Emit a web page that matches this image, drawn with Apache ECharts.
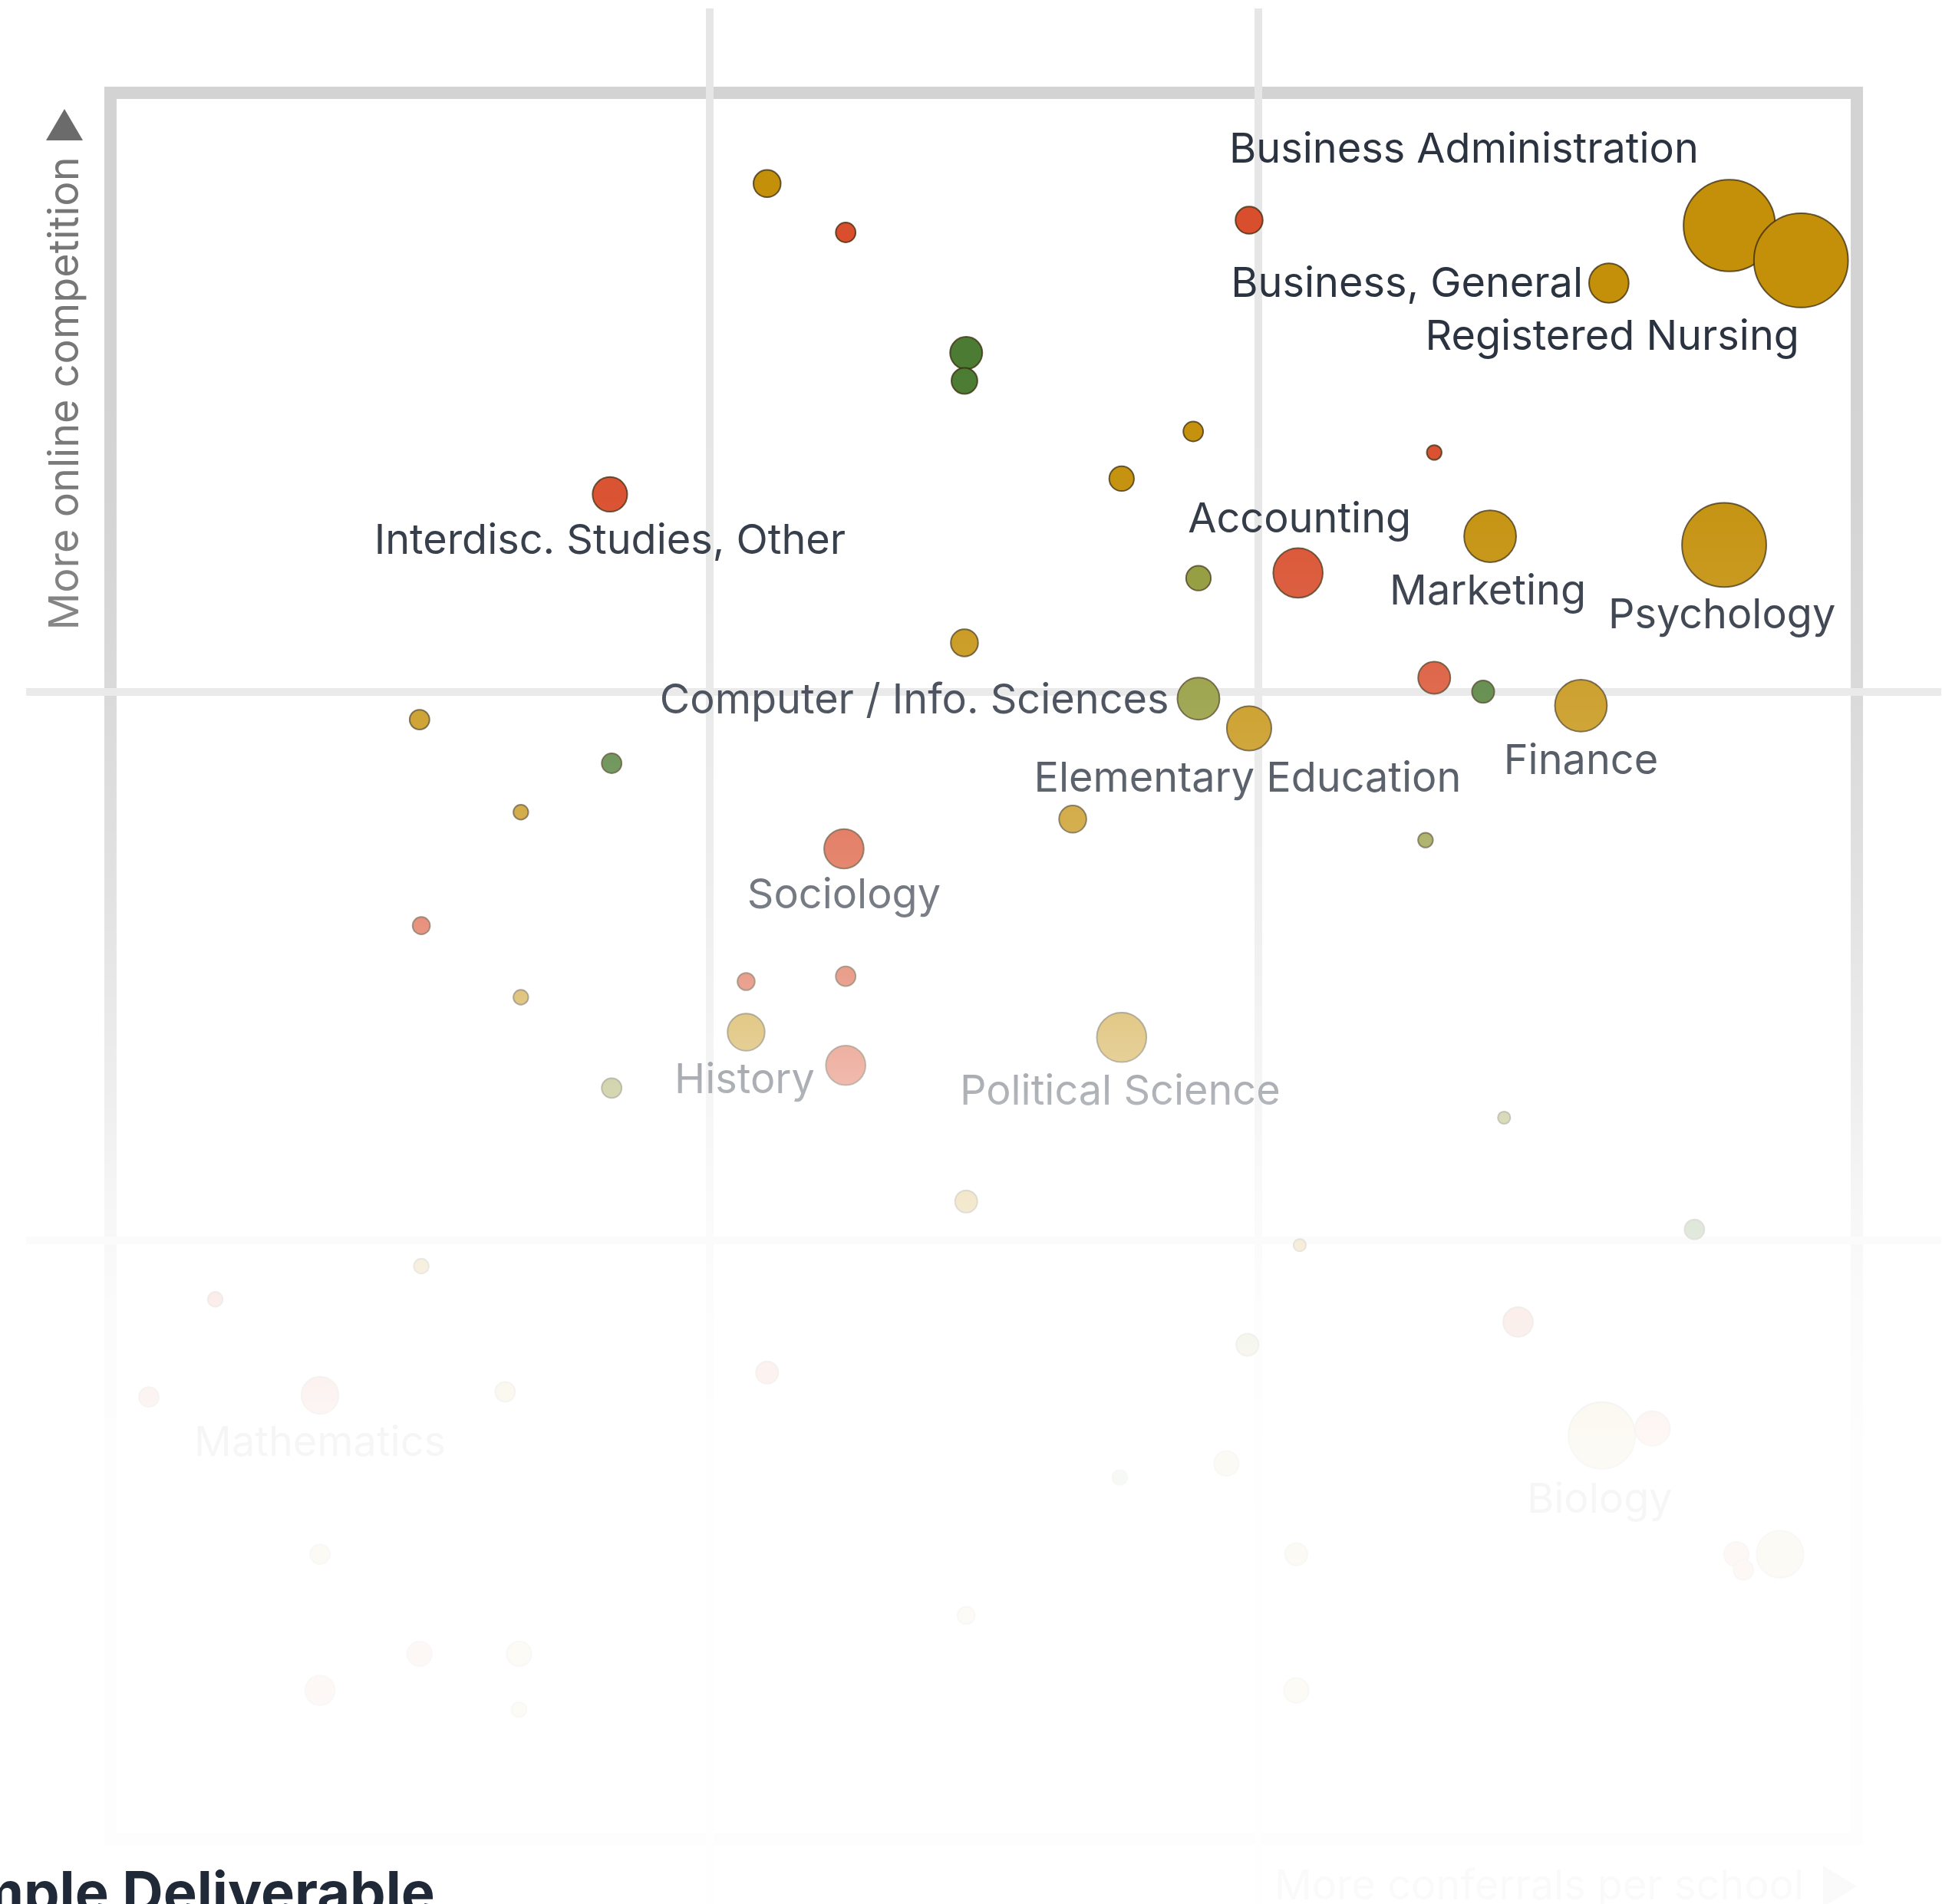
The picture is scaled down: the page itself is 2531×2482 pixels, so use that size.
<!DOCTYPE html>
<html>
<head>
<meta charset="utf-8">
<style>
html,body{margin:0;padding:0;background:#ffffff;overflow:hidden}
#chart{width:2531px;height:2482px}
</style>
<script src="https://cdn.jsdelivr.net/npm/echarts@6/dist/echarts.min.js"></script>
</head>
<body>
<div id="chart"></div>
<script>
// ---- data (x: conferrals-per-school index, y: online-competition index, size: volume) ----
const names = [
  "", "", "", "Business Administration", "Registered Nursing", "Business, General",
  "", "", "", "", "", "Interdisc. Studies, Other",
  "Accounting", "Marketing", "Psychology", "", "", "",
  "", "Computer / Info. Sciences", "Elementary Education", "Finance", "", "",
  "", "", "", "Sociology", "", "",
  "", "", "History", "", "Political Science", "",
  "", "", "", "", "", "",
  "", "", "Mathematics", "", "", "Biology",
  "", "", "", "", "", "",
  "", "", "", "", "", "",
  "", "", ""
];
const xVals = [
  37.6, 42.1, 65.2, 92.7, 96.8, 85.8,
  49.0, 48.9, 62.0, 75.8, 57.9, 28.6,
  68.0, 79.0, 92.4, 62.3, 48.9, 75.8,
  78.6, 62.3, 65.2, 84.2, 17.7, 28.7,
  23.5, 55.1, 75.3, 42.0, 17.8, 23.5,
  36.4, 42.1, 36.4, 42.1, 57.9, 28.7,
  79.8, 49.0, 90.7, 68.1, 17.8, 6.0,
  80.6, 65.1, 12.0, 22.6, 37.6, 85.4,
  88.3, 63.9, 57.8, 67.9, 93.1, 95.6,
  93.5, 67.9, 12.0, 17.7, 23.4, 12.0,
  23.4, 2.2, 49.0
];
const yVals = [
  94.8, 92.0, 92.7, 92.4, 90.4, 89.1,
  85.1, 83.5, 80.6, 79.4, 77.9, 77.0,
  72.5, 74.6, 74.1, 72.2, 68.5, 66.5,
  65.7, 65.3, 63.6, 64.9, 64.1, 61.6,
  58.8, 58.4, 57.2, 56.7, 52.3, 48.2,
  49.1, 49.4, 46.2, 44.3, 45.9, 43.0,
  41.3, 36.5, 34.9, 34.0, 32.8, 30.9,
  29.6, 28.3, 25.4, 25.6, 26.7, 23.1,
  23.5, 21.5, 20.7, 16.3, 16.3, 16.3,
  15.4, 8.5, 16.3, 10.6, 10.6, 8.5,
  7.4, 25.3, 12.8
];
const sizes = [
  121, 64, 121, 1369, 1444, 256,
  169, 110, 64, 36, 100, 196,
  400, 441, 1156, 100, 121, 169,
  81, 289, 324, 441, 64, 64,
  36, 121, 36, 256, 49, 36,
  49, 64, 225, 256, 400, 64,
  25, 81, 64, 25, 36, 36,
  144, 81, 225, 64, 81, 729,
  196, 100, 36, 81, 100, 361,
  64, 100, 64, 100, 100, 144,
  36, 64, 49
];
const groups = [
  "gold", "red", "red", "gold", "gold", "gold",
  "green", "green", "gold", "red", "gold", "red",
  "red", "gold", "gold", "olive", "gold", "red",
  "green", "olive", "gold", "gold", "gold", "green",
  "gold", "gold", "olive", "red", "red", "gold",
  "red", "red", "gold", "red", "gold", "olive",
  "olive", "gold", "green", "gold", "gold", "red",
  "red", "olive", "red", "gold", "red", "gold",
  "red", "gold", "green", "gold", "red", "gold",
  "red", "gold", "gold", "red", "gold", "red",
  "gold", "red", "gold"
];
const quadrantX = [34.3, 65.7];
const quadrantY = [34.3, 65.7];
const xAxisTitle = "More conferrals per school";
const yAxisTitle = "More online competition";
const heading = "Sample Deliverable";

// ---- styling (kept apart from the data) ----
const palette = { gold: "#c4900a", red: "#d94e2d", green: "#4c7c33", olive: "#8d9632" };
// label placement relative to the bubble centre (pixels)
const labelPlace = {
  "Business Administration": { dx: -346, dy: -98 },
  "Registered Nursing": { dx: -246, dy: 100 },
  "Business, General": { side: "left", gap: 7, dy: 2 },
  "Interdisc. Studies, Other": { dx: 0, dy: 61 },
  "Accounting": { dx: 2, dy: -69 },
  "Marketing": { dx: -3, dy: 73 },
  "Psychology": { dx: -3, dy: 92 },
  "Computer / Info. Sciences": { side: "left", gap: 10, dy: 3 },
  "Elementary Education": { dx: -2, dy: 66 },
  "Finance": { dx: 0, dy: 73 },
  "Sociology": { dx: 0, dy: 61 },
  "History": { dx: -2, dy: 63 },
  "Political Science": { dx: -2, dy: 71 },
  "Mathematics": { dx: 0, dy: 63 },
  "Biology": { dx: -3, dy: 84 }
};

const items = names.map(function (n, i) {
  const it = {
    name: n,
    value: [xVals[i], yVals[i], sizes[i]],
    itemStyle: { color: palette[groups[i]] }
  };
  if (n) {
    it.label = { show: true, formatter: n, position: "inside" };
  }
  return it;
});

const chart = echarts.init(document.getElementById("chart"), null, { renderer: "canvas" });

const fade = new echarts.graphic.LinearGradient(0, 0, 0, 1, [
  { offset: 0, color: "rgba(255,255,255,0)" },
  { offset: 0.19, color: "rgba(255,255,255,0)" },
  { offset: 0.26, color: "rgba(255,255,255,0.03)" },
  { offset: 0.29, color: "rgba(255,255,255,0.07)" },
  { offset: 0.325, color: "rgba(255,255,255,0.11)" },
  { offset: 0.368, color: "rgba(255,255,255,0.17)" },
  { offset: 0.409, color: "rgba(255,255,255,0.23)" },
  { offset: 0.47, color: "rgba(255,255,255,0.35)" },
  { offset: 0.573, color: "rgba(255,255,255,0.62)" },
  { offset: 0.631, color: "rgba(255,255,255,0.80)" },
  { offset: 0.683, color: "rgba(255,255,255,0.90)" },
  { offset: 0.758, color: "rgba(255,255,255,0.955)" },
  { offset: 1, color: "rgba(255,255,255,0.965)" }
]);

chart.setOption({
  animation: false,
  backgroundColor: "#ffffff",
  grid: { left: 34, top: 11, width: 2496, height: 2496, show: false, outerBoundsMode: "none", containLabel: false },
  xAxis: { type: "value", min: -4.83, max: 104.83, show: false },
  yAxis: { type: "value", min: -4.83, max: 104.83, show: false },
  series: [
    {
      type: "scatter",
      data: [],
      z: 1,
      silent: true,
      markArea: {
        silent: true,
        z: 0,
        itemStyle: { color: "rgba(0,0,0,0)", borderColor: "#d3d3d3", borderWidth: 16 },
        data: [[{ coord: [0, 100] }, { coord: [100, 0] }]]
      },
      markLine: {
        silent: true,
        z: 1,
        symbol: "none",
        label: { show: false },
        lineStyle: { color: "#e6e6e6", width: 10, type: "solid" },
        data: quadrantX.map(function (v) { return { xAxis: v }; })
          .concat(quadrantY.map(function (v) { return { yAxis: v }; }))
      }
    },
    {
      type: "scatter",
      z: 3,
      data: items,
      symbolSize: function (v) { return 3.23 * Math.sqrt(v[2]); },
      itemStyle: { borderColor: "rgba(55,40,10,0.75)", borderWidth: 2, opacity: 1 },
      label: {
        show: false,
        color: "#2b3340",
        fontSize: 54,
        fontFamily: "Inter",
        fontWeight: 400
      },
      labelLayout: function (p) {
        const lp = labelPlace[names[p.dataIndex]];
        if (!lp) return {};
        const cx = p.rect.x + p.rect.width / 2;
        const cy = p.rect.y + p.rect.height / 2;
        if (lp.side === "left") {
          return { x: p.rect.x - lp.gap, y: cy + lp.dy, align: "right", verticalAlign: "middle" };
        }
        return { x: cx + lp.dx, y: cy + lp.dy, align: "center", verticalAlign: "middle" };
      }
    }
  ],
  graphic: [
    {
      type: "text", x: 86, y: 513, rotation: Math.PI / 2, z: 10, silent: true,
      style: { text: yAxisTitle, fill: "#777777", font: "400 54px Inter",
               textAlign: "center", textVerticalAlign: "middle", align: "center", verticalAlign: "middle" }
    },
    {
      type: "polygon", z: 10, silent: true,
      shape: { points: [[84, 142], [108, 183], [60, 183]] },
      style: { fill: "#6b6b6b" }
    },
    {
      type: "text", x: 2351, y: 2460, z: 10, silent: true,
      style: { text: xAxisTitle, fill: "#777777", font: "400 54px Inter",
               textAlign: "right", textVerticalAlign: "middle", align: "right", verticalAlign: "middle" }
    },
    {
      type: "polygon", z: 10, silent: true,
      shape: { points: [[2376, 2432], [2376, 2486], [2420, 2459]] },
      style: { fill: "#6b6b6b" }
    },
    {
      type: "rect", left: 0, top: 0, z: 50, silent: true,
      shape: { width: 2531, height: 2482 },
      style: { fill: fade }
    },
    {
      type: "text", x: -128, y: 2434, z: 60, silent: true,
      style: { text: heading, fill: "#1f2937", font: "700 74px Inter",
               textAlign: "left", textVerticalAlign: "top", align: "left", verticalAlign: "top" }
    }
  ]
});
</script>
</body>
</html>
